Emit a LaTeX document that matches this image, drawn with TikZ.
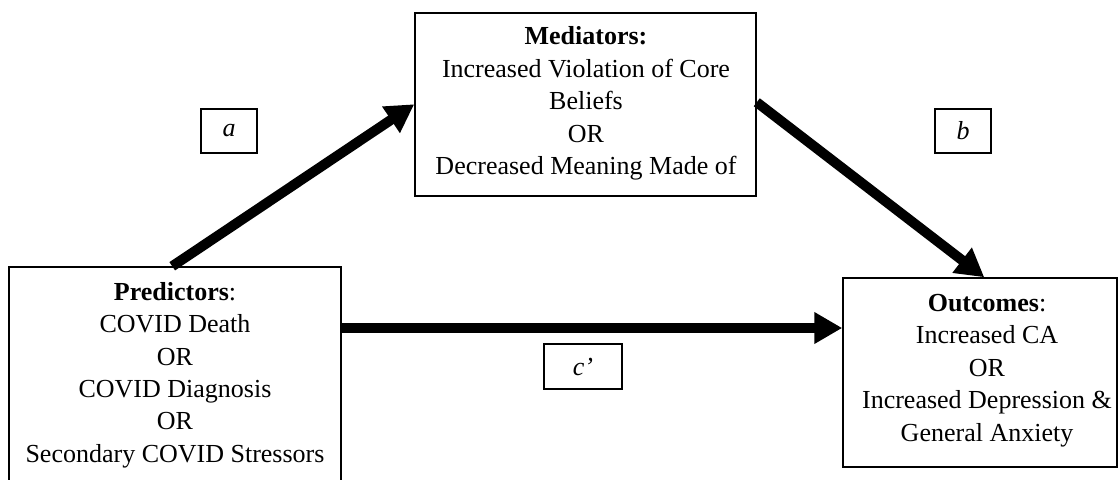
\documentclass[tikz,border=0pt]{standalone}
\usepackage{fontspec}
\setmainfont{Liberation Serif}
\usetikzlibrary{arrows.meta}
\begin{document}
\begin{tikzpicture}[x=1pt,y=-1pt,
  box/.style={draw=black, line width=1.5pt, inner sep=0pt},
  txt/.style={align=center, inner sep=0pt, font=\fontsize{26}{32.4}\selectfont},
  lbl/.style={draw=black, line width=1.3pt, inner sep=0pt, font=\fontsize{26}{32}\selectfont\itshape},
  path/.style={line width=10pt, -{Triangle[length=28pt,width=30pt]}}
]
\useasboundingbox[fill=white] (0,0) rectangle (1118,479);
% boxes
\node[box, minimum width=332pt, minimum height=233pt] (pred) at (175,383.5) {};
\node[box, minimum width=341pt, minimum height=183pt] (med) at (585.5,104.5) {};
\node[box, minimum width=274pt, minimum height=189pt] (out) at (980,372.5) {};
% texts
\node[txt] (predt) at (175,375) {\textbf{Predictors}:\\COVID Death\\OR\\COVID Diagnosis\\OR\\Secondary COVID Stressors};
\node[txt] (medt) at (586,103.5) {\textbf{Mediators:}\\Increased Violation of Core\\Beliefs\\OR\\Decreased Meaning Made of};
\node[txt] (outt) at (987,370.5) {\textbf{Outcomes}:\\Increased CA\\OR\\Increased Depression \&\\General Anxiety};
% path labels
\node[lbl, minimum width=56pt, minimum height=44pt] (la) at (229,131) {a};
\node[lbl, minimum width=56pt, minimum height=44pt] (lb) at (963,131) {b};
\node[lbl, minimum width=78pt, minimum height=45pt] (lc) at (583,366.5) {c’};
% connectors
\draw[path] ([xshift=164pt]pred.north west) -- ([yshift=-92pt]med.north west);
\draw[path] ([yshift=-90pt]med.north east) -- ([xshift=142pt]out.north west);
\draw[path] (pred.east |- 0,328) -- (out.west |- 0,328);
\end{tikzpicture}
\end{document}
